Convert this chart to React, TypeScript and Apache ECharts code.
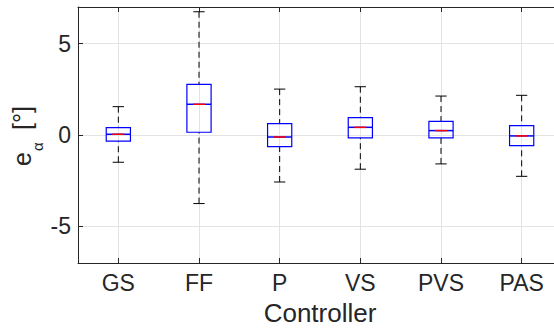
import React, { useEffect, useRef } from 'react';
import * as echarts from 'echarts';

const categories = ['GS', 'FF', 'P', 'VS', 'PVS', 'PAS'];
const lowerWhisker = [-1.49, -3.75, -2.57, -1.87, -1.58, -2.26];
const q1 = [-0.34, 0.15, -0.64, -0.16, -0.16, -0.58];
const median = [0.04, 1.68, -0.11, 0.42, 0.24, -0.05];
const q3 = [0.40, 2.77, 0.62, 0.95, 0.75, 0.51];
const upperWhisker = [1.55, 6.74, 2.51, 2.64, 2.13, 2.17];
const yTicks = [-5, 0, 5];
const yMin = -7;
const yMax = 7;

const FONT = '"Liberation Sans", Arial, Helvetica, sans-serif';
const AXIS_COLOR = '#262626';
const GRID_COLOR = '#e3e3e3';

export default function App() {
  const ref = useRef<HTMLDivElement>(null);

  useEffect(() => {
    if (!ref.current) return;
    const chart = echarts.init(ref.current, undefined, { renderer: 'svg' });

    const data = categories.map((_, i) => [i, lowerWhisker[i], q1[i], median[i], q3[i], upperWhisker[i]]);

    const labelText = (text: string, u: number, v: number, size: number) => ({
      type: 'text',
      x: u,
      y: v,
      style: {
        text,
        font: size + 'px ' + FONT,
        fill: AXIS_COLOR,
        textAlign: 'left',
        textVerticalAlign: 'middle',
        align: 'left',
        verticalAlign: 'middle',
      },
    });

    const option: any = {
      animation: false,
      backgroundColor: '#ffffff',
      grid: { left: 78, right: 0, top: 7, bottom: 70, containLabel: false },
      xAxis: [
        {
          type: 'category',
          data: categories,
          position: 'bottom',
          boundaryGap: true,
          name: 'Controller',
          nameLocation: 'middle',
          nameGap: 37,
          nameTextStyle: { fontFamily: FONT, fontSize: 26, color: AXIS_COLOR },
          axisLine: { show: true, onZero: false, lineStyle: { color: AXIS_COLOR, width: 1 } },
          axisTick: { show: true, inside: true, length: 5, alignWithLabel: true, lineStyle: { color: AXIS_COLOR } },
          axisLabel: { fontFamily: FONT, fontSize: 23, color: AXIS_COLOR, margin: 8 },
          splitLine: { show: true, alignWithLabel: true, lineStyle: { color: GRID_COLOR, width: 1 } },
        },
        {
          type: 'category',
          data: categories,
          position: 'top',
          boundaryGap: true,
          axisLine: { show: true, onZero: false, lineStyle: { color: AXIS_COLOR, width: 1 } },
          axisTick: { show: true, inside: true, length: 5, alignWithLabel: true, lineStyle: { color: AXIS_COLOR } },
          axisLabel: { show: false },
          splitLine: { show: false },
        },
      ],
      yAxis: {
        type: 'value',
        min: yMin,
        max: yMax,
        axisLine: { show: true, onZero: false, lineStyle: { color: AXIS_COLOR, width: 1 } },
        axisTick: { show: true, inside: true, length: 5, customValues: yTicks, lineStyle: { color: AXIS_COLOR } },
        axisLabel: { fontFamily: FONT, fontSize: 23, color: AXIS_COLOR, margin: 7, customValues: yTicks },
        splitLine: { show: true, lineStyle: { color: GRID_COLOR, width: 1 } },
      },
      graphic: [
        {
          type: 'group',
          x: 22,
          y: 166,
          rotation: Math.PI / 2,
          children: [
            labelText('e', 0, 0, 25),
            labelText('α', 15, 15, 15),
            labelText('[°]', 36, 0, 25),
          ],
        },
      ],
      series: [
        {
          type: 'custom',
          xAxisIndex: 0,
          yAxisIndex: 0,
          data,
          encode: { x: 0, y: [1, 2, 3, 4, 5] },
          z: 5,
          renderItem: (params: any, api: any) => {
            const i = api.value(0);
            const lo = api.value(1);
            const a = api.value(2);
            const m = api.value(3);
            const b = api.value(4);
            const hi = api.value(5);
            const band = api.size([1, 0])[0];
            const hw = band * 0.15;
            const cw = band * 0.07;
            const pLo = api.coord([i, lo]);
            const pA = api.coord([i, a]);
            const pM = api.coord([i, m]);
            const pB = api.coord([i, b]);
            const pHi = api.coord([i, hi]);
            const x = pLo[0];
            const whiskerStyle = { stroke: '#000000', lineWidth: 1, lineDash: [6, 4], fill: 'none' };
            const capStyle = { stroke: '#000000', lineWidth: 1, fill: 'none' };
            return {
              type: 'group',
              children: [
                { type: 'line', shape: { x1: x, y1: pHi[1], x2: x, y2: pB[1] }, style: whiskerStyle },
                { type: 'line', shape: { x1: x, y1: pLo[1], x2: x, y2: pA[1] }, style: whiskerStyle },
                { type: 'line', shape: { x1: x - cw, y1: pHi[1], x2: x + cw, y2: pHi[1] }, style: capStyle },
                { type: 'line', shape: { x1: x - cw, y1: pLo[1], x2: x + cw, y2: pLo[1] }, style: capStyle },
                {
                  type: 'rect',
                  shape: { x: x - hw, y: pB[1], width: hw * 2, height: pA[1] - pB[1] },
                  style: { stroke: '#0000ff', lineWidth: 1.2, fill: 'none' },
                },
                { type: 'line', shape: { x1: x - hw, y1: pM[1], x2: x + hw, y2: pM[1] }, style: { stroke: '#0000ff', lineWidth: 1.5 } },
                { type: 'line', shape: { x1: x - hw * 0.5, y1: pM[1], x2: x + hw * 0.5, y2: pM[1] }, style: { stroke: '#ff0000', lineWidth: 1.5 } },
              ],
            };
          },
        },
      ],
    };

    chart.setOption(option);
    return () => {
      chart.dispose();
    };
  }, []);

  return (
    <div style={{ position: 'fixed', left: 0, top: 0, width: 554, height: 333, overflow: 'hidden', background: '#fff' }}>
      <div ref={ref} style={{ width: 562, height: 333 }} />
    </div>
  );
}
